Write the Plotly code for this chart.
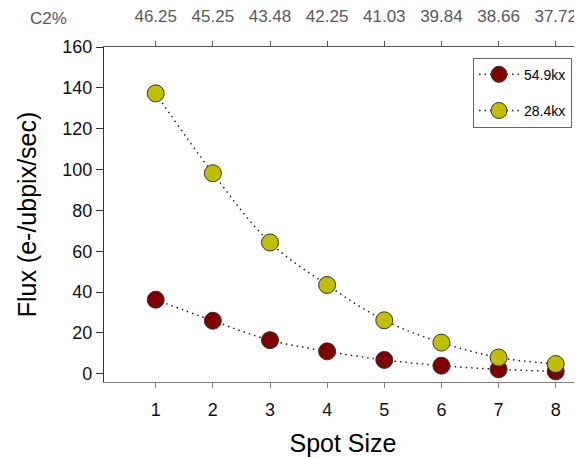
import plotly.graph_objects as go

spot_size = [1, 2, 3, 4, 5, 6, 7, 8]
c2_labels = ["46.25", "45.25", "43.48", "42.25", "41.03", "39.84", "38.66", "37.72"]
flux_549kx = [36.3, 26.0, 16.5, 11.0, 6.8, 4.0, 2.2, 1.2]
flux_284kx = [137.3, 98.2, 64.3, 43.5, 26.2, 15.3, 8.0, 4.8]

FONT = "Liberation Sans, Arial, sans-serif"
DOT = "1.5px,4px"

fig = go.Figure()
fig.add_trace(go.Scatter(
    x=spot_size, y=flux_549kx, name="54.9kx", mode="lines+markers", legendgroup="a",
    line=dict(color="#222222", width=1.5, dash=DOT, shape="spline"),
    marker=dict(size=17, color="#800000", line=dict(color="#333333", width=1)),
))
fig.add_trace(go.Scatter(
    x=spot_size, y=flux_284kx, name="28.4kx", mode="lines+markers", legendgroup="b",
    line=dict(color="#222222", width=1.5, dash=DOT, shape="spline"),
    marker=dict(size=17, color="#BFBF00", line=dict(color="#333333", width=1)),
))
# invisible trace to activate the top axis
fig.add_trace(go.Scatter(x=spot_size, y=flux_284kx, xaxis="x2", mode="markers",
                         marker=dict(opacity=0), showlegend=False, hoverinfo="skip"))

xr = [0.095, 8.46]
fig.update_layout(
    width=574, height=449,
    margin=dict(l=96, r=0, t=39, b=75),
    paper_bgcolor="white", plot_bgcolor="white",
    font=dict(family=FONT, color="#000000"),
    showlegend=True,
    legend=dict(x=0.772, y=0.968, xanchor="left", yanchor="top",
                bordercolor="#666666", borderwidth=1, bgcolor="white",
                font=dict(size=14, family=FONT), tracegroupgap=15,
                traceorder="grouped", itemwidth=40),
    xaxis=dict(range=xr, tickmode="array", tickvals=spot_size, automargin=False,
               ticks="outside", ticklen=5, tickcolor="#808080",
               showline=True, linecolor="#808080", linewidth=1.2,
               showgrid=False, zeroline=False, ticklabelstandoff=6,
               tickfont=dict(size=18, color="#111111"),
               title=dict(text="Spot Size", font=dict(size=25), standoff=18)),
    xaxis2=dict(range=xr, overlaying="x", side="top", tickmode="array", automargin=False,
                tickvals=spot_size, ticktext=c2_labels,
                ticks="outside", ticklen=5, tickcolor="#555555",
                showline=True, linecolor="#555555", linewidth=1,
                showgrid=False, zeroline=False, ticklabelstandoff=12,
                tickfont=dict(size=17, color="#595959")),
    yaxis=dict(range=[-4, 160], tickmode="array", automargin=False,
               tickvals=[0, 20, 40, 60, 80, 100, 120, 140, 160],
               ticks="outside", ticklen=7, tickcolor="#333333",
               showline=True, linecolor="#333333", linewidth=1.2,
               showgrid=False, zeroline=False,
               tickfont=dict(size=18, color="#111111"),
               title=dict(text="Flux (e-/ubpix/sec)", font=dict(size=25), standoff=18)),
    annotations=[dict(text="C2%", xref="paper", yref="paper",
                      x=-0.117, y=1.085, xanchor="center", yanchor="middle",
                      showarrow=False, font=dict(size=17, color="#595959", family=FONT))],
)

fig.write_html("out.html")
